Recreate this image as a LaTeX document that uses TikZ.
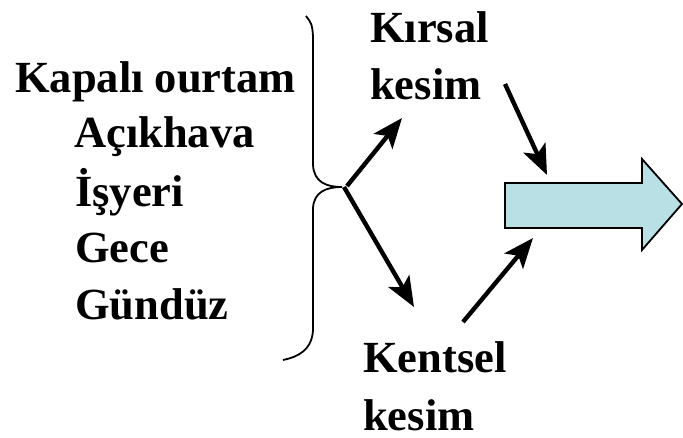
\documentclass[tikz,border=0pt]{standalone}
\usepackage{fontspec}
\setmainfont{Liberation Serif}
\usetikzlibrary{arrows.meta}
\definecolor{arrowfill}{RGB}{185,224,228}
\tikzset{
  lbl/.style={anchor=base west, inner sep=0pt, font=\fontsize{44.5}{52}\selectfont\bfseries},
  conn/.style={line width=4.4pt, -{Stealth[length=30pt,width=24pt,inset=7pt]}},
  bracel/.style={line width=1.8pt},
}
\begin{document}
\begin{tikzpicture}[x=1pt,y=-1pt]
\useasboundingbox (0,0) rectangle (683,438);
% left labels
\node[lbl] (kapali) at (15,93) {Kapalı ourtam};
\node[lbl] (acik) at (74,148) {Açıkhava};
\node[lbl] (isyeri) at (75,207) {İşyeri};
\node[lbl] (gece) at (75,263) {Gece};
\node[lbl] (gunduz) at (75,320) {Gündüz};
% right labels
\node[lbl] (kirsal) at (370,43) {Kırsal};
\node[lbl] (kesim1) at (370,100) {kesim};
\node[lbl] (kentsel) at (363,373) {Kentsel};
\node[lbl] (kesim2) at (363,430) {kesim};
% brace
\coordinate (btop) at (306,16);
\coordinate (btip) at (342,187);
\coordinate (bbot) at (283,360);
\draw[bracel] (btop) .. controls (312,24) .. (313,36) -- (313,165)
  .. controls (314,182) and (326,187) .. (btip)
  .. controls (326,187) and (314,192) .. (313,208) -- (313,330)
  .. controls (312,350) and (298,357) .. (bbot);
% connector end points
\coordinate (upstart) at (347,186);
\coordinate (downstart) at (344,187);
\coordinate (upend) at (402,118);
\coordinate (downend) at (414,307);
\coordinate (k1start) at (505,84);
\coordinate (k1end) at (547,175);
\coordinate (k2start) at (463,322);
\coordinate (k2end) at (533,238);
\draw[conn] (upstart) -- (upend);
\draw[conn] (downstart) -- (downend);
\draw[conn] (k1start) -- (k1end);
\draw[conn] (k2start) -- (k2end);
% big arrow
\draw[line width=1.8pt, fill=arrowfill, line join=miter]
  (505,183) -- (642,183) -- (642,159) -- (682,204) -- (642,250) -- (642,228) -- (505,228) -- cycle;
\end{tikzpicture}
\end{document}
